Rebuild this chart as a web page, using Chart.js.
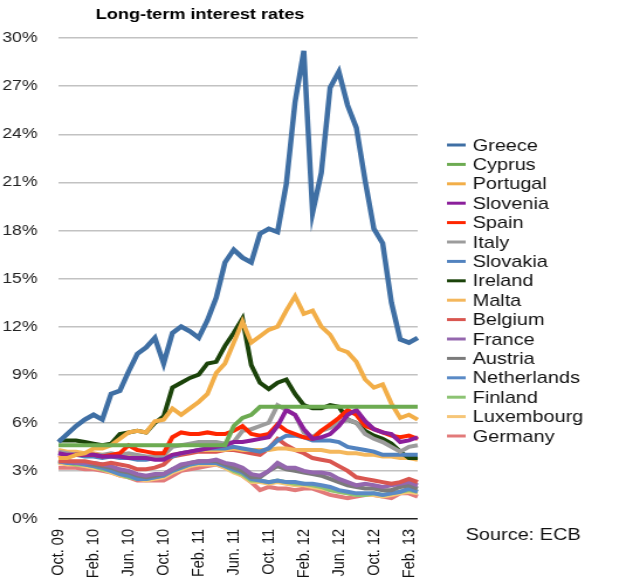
<!DOCTYPE html>
<html lang="en">
<head>
<meta charset="UTF-8">
<title>Long-term interest rates</title>
<script src="https://cdn.jsdelivr.net/npm/chart.js"></script>
<style>
  body { margin: 0; background: #fff; overflow: hidden; }
  /* drawn narrow, then widened a little so the type comes out broad */
  #wrap { width: 533px; height: 578px; transform: scaleX(1.17); transform-origin: 0 0; }
</style>
</head>
<body>
<div id="wrap"><canvas id="rates"></canvas></div>
<script>
// monthly, Oct 2009 - Mar 2013
const months = [
  'Oct. 09','Nov. 09','Dec. 09','Jan. 10','Feb. 10','Mar. 10','Apr. 10','May 10','Jun. 10','Jul. 10',
  'Aug. 10','Sep. 10','Oct. 10','Nov. 10','Dec. 10','Jan. 11','Feb. 11','Mar. 11','Apr. 11','May 11',
  'Jun. 11','Jul. 11','Aug. 11','Sep. 11','Oct. 11','Nov. 11','Dec. 11','Jan. 12','Feb. 12','Mar. 12',
  'Apr. 12','May 12','Jun. 12','Jul. 12','Aug. 12','Sep. 12','Oct. 12','Nov. 12','Dec. 12','Jan. 13',
  'Feb. 13','Mar. 13'
];

const countries = ['Greece','Cyprus','Portugal','Slovenia','Spain','Italy','Slovakia','Ireland',
  'Malta','Belgium','France','Austria','Netherlands','Finland','Luxembourg','Germany'];

// yields in %
const greece = [4.8,5.3,5.8,6.2,6.5,6.2,7.8,8.0,9.2,10.3, 10.7,11.3,9.7,11.6,12.0,11.7,11.3,12.4,13.8,16.0,
  16.8,16.3,16.0,17.8,18.1,17.9,20.9,26.0,29.2,19.1, 21.6,26.9,27.9,25.8,24.4,21.1,18.1,17.2,13.5,11.2, 11.0,11.3];
const cyprus = [4.6,4.6,4.6,4.6,4.6,4.6,4.6,4.6,4.6,4.6, 4.6,4.6,4.6,4.6,4.6,4.6,4.6,4.6,4.6,4.6,
  5.8,6.3,6.5,7.0,7.0,7.0,7.0,7.0,7.0,7.0, 7.0,7.0,7.0,7.0,7.0,7.0,7.0,7.0,7.0,7.0, 7.0,7.0];
const portugal = [3.8,3.8,4.0,4.1,4.4,4.4,4.6,5.0,5.4,5.5, 5.4,6.1,6.2,6.9,6.5,6.9,7.3,7.8,9.1,9.7,
  11.0,12.3,11.0,11.4,11.8,12.0,13.0,13.9,12.8,13.0, 12.0,11.5,10.6,10.4,9.8,8.7,8.2,8.4,7.2,6.3, 6.5,6.2];
const slovenia = [4.1,4.0,4.0,4.0,4.0,3.9,3.9,3.9,3.8,3.8, 3.8,3.7,3.7,4.0,4.1,4.2,4.3,4.4,4.5,4.6,
  4.8,4.8,4.9,5.0,5.1,5.8,6.8,6.5,5.6,5.0, 5.1,5.3,5.8,6.5,6.8,6.1,5.6,5.4,5.3,4.8, 4.9,5.1];
const spain = [3.8,3.9,4.0,4.0,4.0,3.9,4.0,4.1,4.6,4.3, 4.2,4.1,4.1,5.1,5.4,5.3,5.3,5.4,5.3,5.3,
  5.5,5.8,5.3,5.2,5.3,5.9,5.5,5.3,5.1,5.0, 5.5,5.9,6.3,6.8,6.5,5.8,5.6,5.4,5.2,5.1, 5.2,5.0];
const italy = [4.2,4.1,4.0,4.0,4.0,4.0,4.1,4.0,4.1,4.0, 3.9,3.9,4.0,4.5,4.6,4.7,4.8,4.8,4.8,4.7,
  4.8,5.5,5.6,5.8,6.0,7.1,6.8,6.5,5.4,5.1, 5.5,5.7,6.0,6.2,6.0,5.3,5.0,4.8,4.5,4.2, 4.5,4.6];
const slovakia = [4.1,4.0,4.0,3.9,3.9,3.8,3.9,3.8,3.8,3.7, 3.7,3.8,3.8,3.9,4.1,4.2,4.3,4.4,4.4,4.4,
  4.5,4.4,4.3,4.2,4.4,4.9,5.2,5.2,5.1,4.9, 4.9,4.9,4.8,4.5,4.4,4.3,4.2,4.0,4.0,4.0, 4.0,4.0];
const ireland = [4.9,4.9,4.9,4.8,4.7,4.6,4.7,5.3,5.4,5.5, 5.4,6.0,6.4,8.2,8.5,8.8,9.0,9.7,9.8,10.8,
  11.6,12.5,9.6,8.5,8.1,8.5,8.7,7.8,7.1,6.9, 6.9,7.1,7.0,6.2,6.0,5.5,5.2,5.0,4.7,4.2, 3.8,3.8];
const malta = [4.3,4.2,4.2,4.1,4.1,4.0,4.0,3.9,3.9,3.8, 3.8,3.8,3.9,4.0,4.1,4.2,4.3,4.3,4.3,4.3,
  4.4,4.3,4.3,4.3,4.3,4.4,4.4,4.3,4.3,4.3, 4.3,4.2,4.2,4.1,4.1,4.0,4.0,3.9,3.9,3.8, 3.8,3.7];
const belgium = [3.6,3.6,3.6,3.6,3.5,3.4,3.5,3.4,3.3,3.1, 3.1,3.2,3.4,3.9,4.0,4.1,4.2,4.2,4.2,4.3,
  4.3,4.2,4.1,4.0,4.4,5.0,4.6,4.3,4.1,3.8, 3.7,3.6,3.3,3.0,2.6,2.5,2.4,2.3,2.2,2.3, 2.5,2.3];
const france = [3.6,3.6,3.5,3.5,3.5,3.4,3.3,3.1,3.0,2.8, 2.7,2.8,2.8,3.1,3.4,3.5,3.6,3.6,3.7,3.5,
  3.4,3.2,2.8,2.7,3.0,3.5,3.2,3.2,3.0,2.9, 2.9,2.8,2.5,2.3,2.1,2.2,2.1,2.0,2.1,2.2, 2.3,2.1];
const austria = [3.7,3.6,3.5,3.5,3.4,3.3,3.2,3.0,2.9,2.7, 2.6,2.7,2.8,3.1,3.3,3.5,3.6,3.6,3.6,3.4,
  3.2,3.0,2.6,2.6,3.0,3.3,3.1,3.0,2.9,2.8, 2.7,2.5,2.3,2.1,2.0,1.9,1.9,1.8,1.8,2.0, 2.1,1.9];
const netherlands = [3.6,3.5,3.5,3.4,3.3,3.2,3.0,2.8,2.7,2.5, 2.5,2.6,2.7,3.0,3.2,3.4,3.5,3.5,3.5,3.3,
  3.1,2.9,2.5,2.4,2.3,2.4,2.3,2.3,2.2,2.2, 2.1,2.0,1.8,1.7,1.6,1.6,1.6,1.5,1.6,1.7, 1.9,1.7];
const finland = [3.6,3.5,3.4,3.4,3.3,3.1,3.0,2.8,2.6,2.5, 2.5,2.6,2.7,3.0,3.2,3.4,3.5,3.5,3.5,3.3,
  3.0,2.8,2.4,2.4,2.3,2.4,2.3,2.2,2.2,2.1, 2.0,1.8,1.7,1.6,1.5,1.5,1.6,1.5,1.6,1.7, 1.8,1.7];
const luxembourg = [3.5,3.4,3.4,3.3,3.2,3.1,2.9,2.7,2.6,2.5, 2.4,2.5,2.6,2.9,3.1,3.3,3.4,3.4,3.4,3.2,
  2.9,2.7,2.3,2.3,2.2,2.3,2.2,2.1,2.1,2.0, 1.9,1.8,1.7,1.6,1.5,1.5,1.5,1.4,1.5,1.6, 1.7,1.6];
const germany = [3.2,3.2,3.2,3.1,3.1,3.0,2.9,2.7,2.6,2.4, 2.4,2.4,2.4,2.7,3.0,3.1,3.2,3.3,3.4,3.2,
  3.0,2.7,2.3,1.8,2.0,1.9,1.9,1.8,1.9,1.9, 1.7,1.5,1.4,1.3,1.4,1.5,1.5,1.4,1.3,1.6, 1.6,1.4];

const series = [greece, cyprus, portugal, slovenia, spain, italy, slovakia, ireland,
  malta, belgium, france, austria, netherlands, finland, luxembourg, germany];

const lineColours = ['#3f6fa4','#6dab52','#f2ae48','#8b1f9b','#ff2600','#9c9c9c','#5283bf','#1b430a',
  '#f4b75c','#d95650','#9467ae','#7b7b7b','#5a8ac6','#8cc373','#f6c678','#e27a7a'];

const FONT = '"Liberation Sans", Arial, Helvetica, sans-serif';

// title, legend and source note
const extras = {
  id: 'extras',
  afterDraw(chart) {
    const ctx = chart.ctx;
    ctx.save();
    ctx.fillStyle = '#000';
    ctx.textBaseline = 'middle';
    ctx.textAlign = 'center';
    ctx.font = 'bold 15.5px ' + FONT;
    ctx.fillText('Long-term interest rates', 171, 15);

    ctx.textAlign = 'left';
    ctx.font = '17px ' + FONT;
    chart.data.datasets.forEach((ds, i) => {
      const y = 145 + i * 19.4;
      ctx.strokeStyle = ds.borderColor;
      ctx.lineWidth = 3;
      ctx.beginPath();
      ctx.moveTo(382, y);
      ctx.lineTo(398, y);
      ctx.stroke();
      ctx.fillStyle = '#111';
      ctx.fillText(ds.label, 404, y + 1);
    });
    ctx.fillText('Source: ECB', 398, 535);
    ctx.restore();
  }
};

new Chart(document.getElementById('rates'), {
  type: 'line',
  data: {
    labels: months,
    datasets: countries.map((name, i) => ({
      label: name,
      data: series[i],
      borderColor: lineColours[i],
      backgroundColor: lineColours[i],
      borderWidth: i === 0 ? 4.5 : 4,
      pointRadius: 0,
      tension: 0,
      fill: false
    }))
  },
  options: {
    responsive: true,
    maintainAspectRatio: false,
    animation: false,
    layout: { padding: { top: 38, right: 176, bottom: 0, left: 0 } },
    plugins: {
      legend: { display: false },
      title: { display: false },
      tooltip: { enabled: false }
    },
    scales: {
      x: {
        afterFit(scale) { scale.height = 59; },
        grid: { display: false },
        border: { display: false },
        ticks: {
          autoSkip: false,
          maxRotation: 90,
          minRotation: 90,
          padding: 2,
          color: '#111',
          font: { family: FONT, size: 14.5 },
          callback(value, index) { return index % 4 === 0 ? months[index] : ''; }
        }
      },
      y: {
        min: 0,
        max: 30,
        afterFit(scale) { scale.width = 50; },
        border: { display: false },
        grid: {
          drawTicks: false,
          color: c => c.tick.value === 0 ? '#222' : '#c2c2c2',
          lineWidth: c => c.tick.value === 0 ? 1.6 : 1.4
        },
        ticks: {
          stepSize: 3,
          padding: 18,
          color: '#222',
          font: { family: FONT, size: 15 },
          callback: v => v + '%'
        }
      }
    }
  },
  plugins: [extras]
});
</script>
</body>
</html>
